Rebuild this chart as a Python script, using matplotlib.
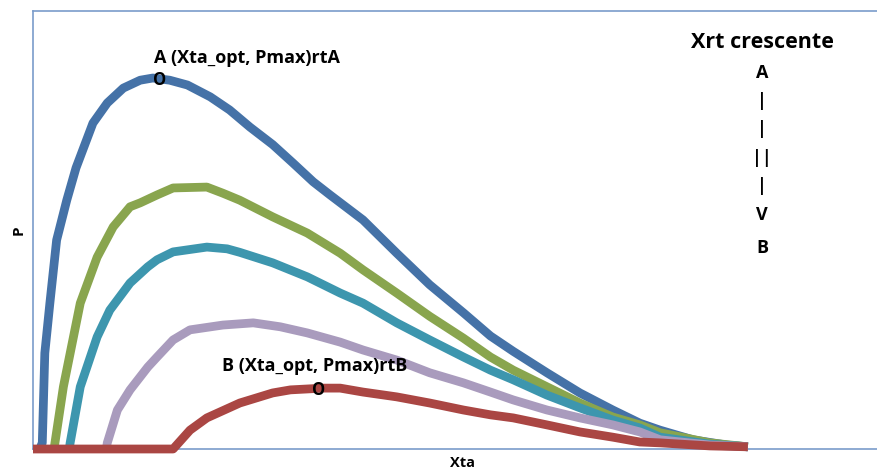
"""Recreate the P vs Xta curve family (Xrt crescente, A -> B)."""

import matplotlib

matplotlib.use("Agg")
import matplotlib.pyplot as plt
import numpy as np

plt.rcParams["font.family"] = ["Open Sans", "DejaVu Sans"]
plt.rcParams["font.weight"] = "bold"

# Curves, Xta in 0..100, P in 0..100 of the plot area
xta_a = [0.8, 1.1, 1.4, 2.0, 2.8, 4.0, 5.1, 7.1, 8.8, 10.7, 12.7, 14.2, 16.2, 18.3, 21.0,
         23.3, 25.7, 28.4, 30.8, 33.2, 35.2, 39.1, 43.1, 47.0, 51.0, 54.2, 56.9, 60.9,
         64.8, 68.7, 71.9, 74.3, 78.2, 82.2, 84.7]
p_a = [0.0, 1.4, 21.9, 33.3, 47.7, 56.8, 64.2, 74.4, 79.0, 82.4, 84.2, 84.7, 84.2, 83.1, 80.4,
       77.4, 73.5, 69.5, 65.3, 61.0, 58.0, 52.3, 44.7, 37.5, 31.1, 25.8, 22.3, 17.4,
       12.8, 8.9, 5.9, 4.3, 2.1, 0.9, 0.5]

xta_2 = [2.5, 2.6, 3.6, 5.6, 7.6, 9.5, 11.5, 12.7, 14.7, 16.6, 20.6, 22.5, 24.5, 28.4, 32.5,
         36.4, 39.1, 43.1, 47.0, 51.0, 54.2, 56.9, 60.9, 64.8, 68.7, 71.9, 74.3, 80.2, 84.7]
p_2 = [0.0, 1.4, 14.2, 33.3, 43.8, 50.7, 55.3, 56.2, 58.0, 59.6, 59.8, 58.4, 56.8, 53.0, 49.3,
       44.7, 40.9, 35.6, 30.3, 25.3, 21.0, 18.0, 14.2, 10.5, 7.3, 5.5, 3.7, 1.4, 0.5]

xta_3 = [4.3, 4.4, 5.6, 7.6, 9.1, 11.5, 13.6, 14.7, 16.6, 20.6, 23.0, 24.5, 28.4, 32.5, 36.4,
         39.1, 43.1, 47.0, 51.0, 54.2, 56.9, 60.9, 64.8, 68.7, 71.9, 74.3, 80.2, 84.7]
p_3 = [0.0, 1.4, 14.2, 25.6, 31.7, 37.9, 41.6, 43.2, 45.0, 46.1, 45.7, 44.9, 42.5, 39.3, 35.6,
       33.3, 28.8, 24.9, 21.0, 18.0, 15.8, 12.3, 9.4, 6.6, 4.8, 2.7, 1.1, 0.5]

xta_4 = [8.7, 8.8, 10.0, 11.5, 13.6, 14.7, 16.6, 18.6, 22.5, 26.1, 29.3, 32.5, 36.4, 39.1,
         43.1, 47.0, 51.0, 54.2, 56.9, 60.9, 64.8, 68.7, 71.9, 74.3, 80.2, 84.7]
p_4 = [0.0, 1.4, 8.9, 13.5, 18.7, 21.0, 24.9, 27.2, 28.3, 28.8, 27.9, 26.5, 24.4, 22.6,
       20.3, 17.4, 15.1, 13.0, 11.2, 8.9, 7.1, 5.5, 3.9, 2.1, 0.9, 0.5]

xta_b = [0.0, 16.6, 18.6, 20.6, 24.5, 28.4, 30.5, 34.4, 36.4, 39.1, 43.1, 47.0, 51.0, 54.2,
         56.9, 60.9, 64.8, 68.7, 71.9, 74.3, 80.2, 84.7]
p_b = [0.0, 0.0, 4.3, 7.1, 10.5, 12.8, 13.5, 13.9, 13.9, 13.0, 11.9, 10.5, 8.9, 7.8,
       7.1, 5.5, 3.9, 2.7, 1.6, 1.4, 0.7, 0.5]

LABEL_A = "A (Xta_opt, Pmax)rtA"
LABEL_B = "B (Xta_opt, Pmax)rtB"
SIDE_TITLE = "Xrt crescente"
SIDE_ARROW = ["A", "|", "|", "||", "|", "V", "B"]

COLORS = ["#4572A7", "#89A54E", "#3D96AE", "#A99BBD", "#AA4643"]
SPINE_COLOR = "#7A9CCB"

fig = plt.figure(figsize=(8.77, 4.71), dpi=100)
ax = fig.add_axes([33 / 877, 22 / 471, 1 - 33 / 877, 438 / 471])

series = [(xta_a, p_a), (xta_2, p_2), (xta_3, p_3), (xta_4, p_4), (xta_b, p_b)]
for (xs, ps), color in zip(series, COLORS):
    ax.plot(xs, ps, color=color, linewidth=6.3, solid_joinstyle="round",
            solid_capstyle="butt", clip_on=False, zorder=3)

ax.set_xlim(0, 100)
ax.set_ylim(0, 100)
ax.set_xticks([])
ax.set_yticks([])
for side in ["left", "top", "bottom"]:
    ax.spines[side].set_color(SPINE_COLOR)
    ax.spines[side].set_linewidth(1.2)
ax.spines["right"].set_visible(False)

# peak markers and their labels
for xs, ps, label, odx, ody, ldx, ldy in [(xta_a, p_a, LABEL_A, 0.85, -0.5, 0.1, 4.6),
                                          (xta_b, p_b, LABEL_B, -0.6, -0.4, -12.0, 5.0)]:
    i = int(np.argmax(ps))
    ax.text(xs[i] + odx, ps[i] + ody, "O", fontsize=12, fontweight="bold", ha="center",
            va="center", zorder=5)
    ax.text(xs[i] + ldx, ps[i] + ldy, label, fontsize=13, fontweight="bold", ha="left",
            va="center", zorder=5)

ax.set_ylabel("P", fontsize=11, fontweight="bold", labelpad=5)
fig.text(462 / 877, 1 - 470 / 471, "Xta", fontsize=10.5, fontweight="bold",
         ha="center", va="bottom")

fig.text(762 / 877, 1 - 43 / 471, SIDE_TITLE, fontsize=15.5, fontweight="bold",
         ha="center", va="center")
for k, s in enumerate(SIDE_ARROW):
    y = [73, 101, 129, 158, 186, 215, 248][k]
    fig.text(762 / 877, 1 - y / 471, s, fontsize=13, fontweight="bold",
             ha="center", va="center")

fig.savefig("out.png", dpi=100)
